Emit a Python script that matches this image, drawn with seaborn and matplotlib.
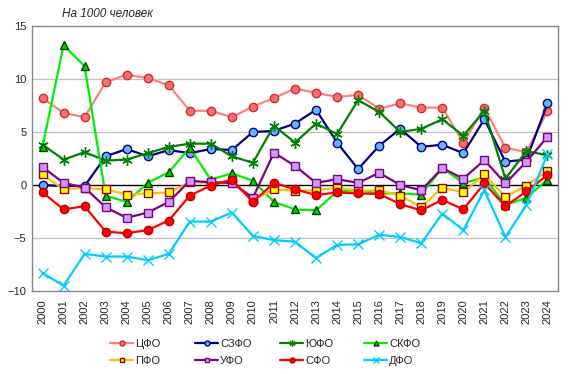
import numpy as np
import pandas as pd
import matplotlib
matplotlib.use("Agg")
import matplotlib.pyplot as plt
import seaborn as sns

years = list(range(2000, 2025))

cfo = [8.2, 6.8, 6.4, 9.7, 10.4, 10.1, 9.4, 7.0, 7.0, 6.4, 7.4, 8.2, 9.1,
       8.7, 8.3, 8.5, 7.2, 7.7, 7.3, 7.3, 4.0, 7.3, 3.5, 3.1, 7.0]
szfo = [0.0, -0.1, -0.1, 2.7, 3.4, 2.7, 3.3, 3.0, 3.4, 3.3, 5.0, 5.1, 5.8,
        7.1, 4.0, 1.5, 3.7, 5.3, 3.6, 3.8, 3.0, 6.2, 2.2, 2.4, 7.7]
yufo = [3.8, 2.4, 3.1, 2.3, 2.4, 3.0, 3.6, 3.9, 3.9, 2.7, 2.1, 5.6, 4.0,
        5.8, 4.8, 8.0, 6.9, 5.0, 5.3, 6.2, 4.65, 7.0, 0.6, 3.2, 2.8]
skfo = [3.6, 13.2, 11.2, -1.0, -1.6, 0.2, 1.2, 3.5, 0.5, 1.1, 0.4, -1.6, -2.3,
        -2.4, -0.6, -0.5, -0.8, -0.8, -0.9, 1.6, 0.2, 0.7, -1.9, -1.2, 0.5]
pfo = [1.0, -0.4, -0.3, -0.4, -0.9, -0.8, -0.7, 0.25, 0.2, 0.4, -1.4, -0.4, -0.55,
       -0.5, -0.25, -0.55, -0.5, -1.0, -2.1, -0.25, -0.7, 1.0, -1.1, -0.05, 1.35]
ufo = [1.7, 0.2, -0.25, -2.1, -3.1, -2.6, -1.6, 0.4, 0.25, 0.2, -1.2, 3.05, 1.8,
       0.2, 0.55, 0.2, 1.15, 0.0, -0.5, 1.6, 0.6, 2.35, 0.15, 2.2, 4.55]
sfo = [-0.7, -2.3, -2.0, -4.4, -4.55, -4.25, -3.35, -1.0, -0.05, 0.5, -1.6, 0.2, -0.4,
       -0.95, -0.7, -0.8, -0.85, -1.8, -2.4, -1.4, -2.3, 0.15, -2.0, -0.6, 0.95]
dfo = [-8.3, -9.5, -6.5, -6.75, -6.75, -7.1, -6.5, -3.45, -3.45, -2.6, -4.8, -5.2, -5.35,
       -6.9, -5.65, -5.6, -4.7, -4.9, -5.5, -2.7, -4.25, -0.5, -4.9, -1.9, 2.9]

labels = ["ЦФО", "СЗФО", "ЮФО", "СКФО", "ПФО", "УФО", "СФО", "ДФО"]
series = [cfo, szfo, yufo, skfo, pfo, ufo, sfo, dfo]

# line colour, marker, marker face, marker edge
styles = {
    "ЦФО": ("#FF8080", "o", "#FF6F6F", "#C83030"),
    "СЗФО": ("#000080", "o", "#66B3FF", "#000080"),
    "ЮФО": ("#008000", (6, 2, 0), "#008000", "#008000"),
    "СКФО": ("#00EE00", "^", "#00CC00", "#004000"),
    "ПФО": ("#FFC000", "s", "#FFFF00", "#990000"),
    "УФО": ("#800080", "s", "#CC99FF", "#800080"),
    "СФО": ("#FF0000", "o", "#FF0000", "#C00000"),
    "ДФО": ("#00CCFF", "x", "#00CCFF", "#00CCFF"),
}

df = pd.DataFrame({"year": years})
for lab, vals in zip(labels, series):
    df[lab] = vals

sns.set_style("white")
plt.rcParams["font.family"] = ["Liberation Sans", "DejaVu Sans"]

fig = plt.figure(figsize=(5.73, 3.74), dpi=100)
ax = fig.add_axes([32 / 573, 1 - 291 / 374, 526 / 573, 265 / 374])

for lab in labels:
    lc, mk, mf, me = styles[lab]
    thin = mk in ("x", (6, 2, 0))
    sns.lineplot(data=df, x="year", y=lab, ax=ax, color=lc, lw=1.6,
                 marker=mk, markersize=7.5 if thin else 6,
                 markerfacecolor=mf, markeredgecolor=me,
                 markeredgewidth=1.0,
                 label=lab, zorder=3)

ax.set_xlim(1999.5, 2024.5)
ax.set_ylim(-10, 15)
ax.set_yticks([-10, -5, 0, 5, 10, 15])
ax.set_xticks(years)
ax.set_xticklabels([str(y) for y in years], rotation=90, fontsize=8)
ax.tick_params(axis="y", labelsize=8, length=0, pad=4)
ax.tick_params(axis="x", length=0, pad=6)
ax.set_xlabel("")
ax.set_ylabel("")

for v in [-5, 5, 10]:
    ax.axhline(v, color="#C0C0C0", lw=0.9, zorder=1)
ax.axhline(0, color="black", lw=1.0, zorder=2)

for sp in ax.spines.values():
    sp.set_color("#868686")
    sp.set_linewidth(1.0)

fig.text(62 / 573, 1 - 14 / 374, "На 1000 человек", fontsize=8.5,
         style="italic", va="center", ha="left")

handles, labs = ax.get_legend_handles_labels()
ax.get_legend().remove()

# one small legend per column, Excel-like fixed column widths
col_x = [110, 195, 280, 364]
for i, x0 in enumerate(col_x):
    pair = [i, i + 4]
    fig.legend([handles[j] for j in pair], [labs[j] for j in pair],
               loc="upper left", bbox_to_anchor=(x0 / 573, 1 - 339 / 374),
               frameon=False, fontsize=8, handlelength=2.1, handletextpad=0.15,
               labelspacing=0.6, markerscale=0.6, borderpad=0, borderaxespad=0)

fig.savefig("out.png", dpi=100)
